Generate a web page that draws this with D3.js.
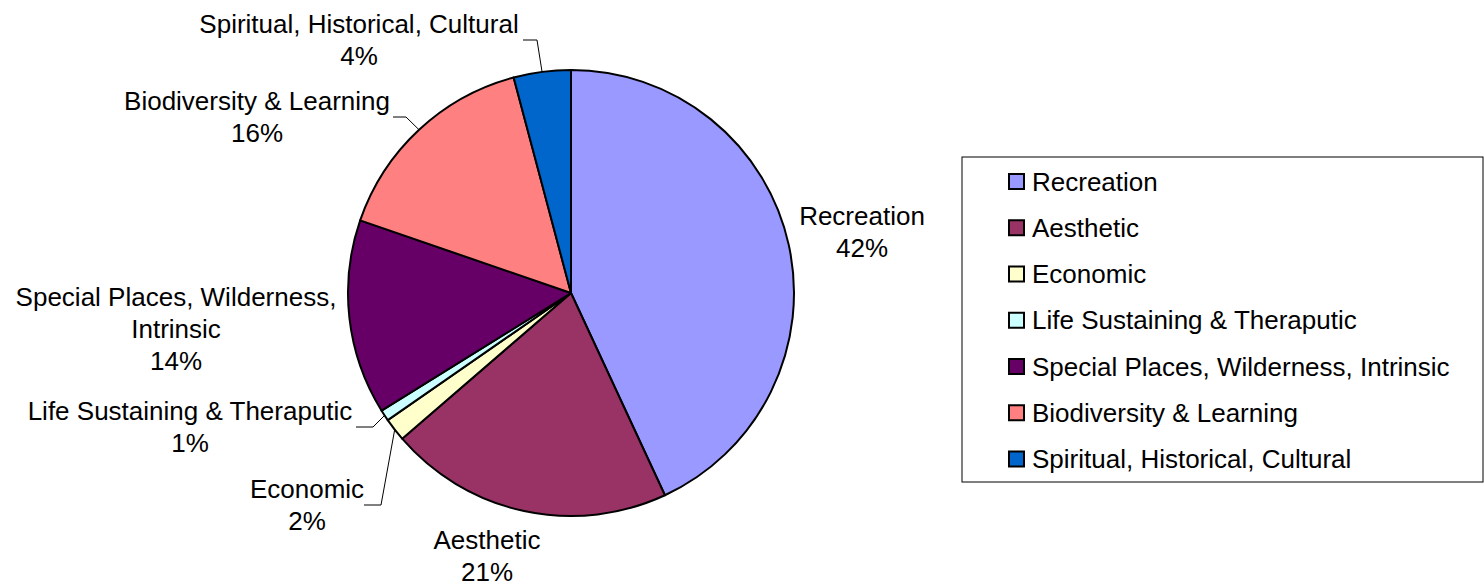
<!DOCTYPE html>
<html>
<head>
<meta charset="utf-8">
<script src="https://cdn.jsdelivr.net/npm/d3@7"></script>
<style>
  html, body { margin: 0; padding: 0; background: #ffffff; }
  svg { display: block; }
  text { font-family: "Liberation Sans", Arial, sans-serif; fill: #000; }
</style>
</head>
<body>
<svg id="chart" width="1484" height="587"></svg>
<script>
// ---- data ----
const categories = [
  "Recreation",
  "Aesthetic",
  "Economic",
  "Life Sustaining & Theraputic",
  "Special Places, Wilderness, Intrinsic",
  "Biodiversity & Learning",
  "Spiritual, Historical, Cultural"
];
const values = [43.08, 20.59, 1.68, 0.80, 14.13, 15.58, 4.14];
const pctLabels = ["42%", "21%", "2%", "1%", "14%", "16%", "4%"];
const labelLines = [
  ["Recreation"],
  ["Aesthetic"],
  ["Economic"],
  ["Life Sustaining & Theraputic"],
  ["Special Places, Wilderness,", "Intrinsic"],
  ["Biodiversity & Learning"],
  ["Spiritual, Historical, Cultural"]
];
const colors = ["#9999FF", "#993366", "#FFFFCC", "#CCFFFF", "#660066", "#FF8080", "#0066CC"];

// ---- layout (label placement relative to pie centre; not data) ----
const cx = 571, cy = 293, radius = 223;
const fontSize = 26, lineH = 32;
// text centre x offset, first baseline y offset, optional leader elbow (dx,dy) and leader end x offset
const labelLayout = [
  { x: 291, y: -68 },
  { x: -84, y: 256 },
  { x: -264, y: 205, elbow: [-190, 212], end: -207 },
  { x: -381, y: 127, elbow: [-198, 134], end: -215 },
  { x: -395, y: 13 },
  { x: -314, y: -183, elbow: [-165, -176], end: -178 },
  { x: -212, y: -260, elbow: [-34, -253], end: -48 }
];

const svg = d3.select("#chart");
const g = svg.append("g").attr("transform", `translate(${cx},${cy})`);

const pie = d3.pie().sort(null).value(d => d)(values);
const arc = d3.arc().innerRadius(0).outerRadius(radius);

g.selectAll("path.slice")
  .data(pie)
  .join("path")
  .attr("class", "slice")
  .attr("d", arc)
  .attr("fill", (d, i) => colors[i])
  .attr("stroke", "#000")
  .attr("stroke-width", 2)
  .attr("stroke-linejoin", "round");

// leader lines
pie.forEach((d, i) => {
  const L = labelLayout[i];
  if (!L.elbow) return;
  const a = (d.startAngle + d.endAngle) / 2;
  const px = radius * Math.sin(a), py = -radius * Math.cos(a);
  g.append("polyline")
    .attr("points", `${px},${py} ${L.elbow[0]},${L.elbow[1]} ${L.end},${L.elbow[1]}`)
    .attr("fill", "none")
    .attr("stroke", "#000")
    .attr("stroke-width", 1);
});

// labels
pie.forEach((d, i) => {
  const L = labelLayout[i];
  const lines = labelLines[i].concat([pctLabels[i]]);
  const t = g.append("text")
    .attr("text-anchor", "middle")
    .attr("font-size", fontSize);
  lines.forEach((s, k) => {
    t.append("tspan").attr("x", L.x).attr("y", L.y + k * lineH).text(s);
  });
});

// legend
const legend = svg.append("g").attr("transform", "translate(962,157)");
legend.append("rect")
  .attr("x", 0).attr("y", 0)
  .attr("width", 521).attr("height", 325)
  .attr("fill", "#fff").attr("stroke", "#000").attr("stroke-width", 1);
const ly = d3.scalePoint().domain(categories).range([24.5, 302]);
const items = legend.selectAll("g.item").data(categories).join("g")
  .attr("class", "item")
  .attr("transform", d => `translate(0,${ly(d)})`);
items.append("rect")
  .attr("x", 47).attr("y", -7.5).attr("width", 15).attr("height", 15)
  .attr("fill", (d, i) => colors[i])
  .attr("stroke", "#000").attr("stroke-width", 2);
items.append("text")
  .attr("x", 70).attr("y", 9)
  .attr("font-size", fontSize)
  .text(d => d);
</script>
</body>
</html>
